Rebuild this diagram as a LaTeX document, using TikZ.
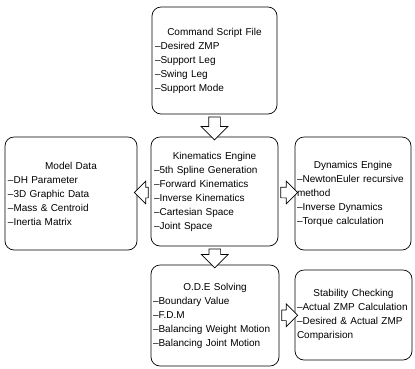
\documentclass[tikz,border=0pt]{standalone}
\usepackage{fontspec}
\setmainfont{Liberation Sans}
\usetikzlibrary{shapes.arrows,calc}
\newcommand{\boxfont}{\fontsize{10}{14}\selectfont\hyphenpenalty=10000\relax}
\newcommand{\boxtitle}[1]{\makebox[\linewidth]{#1}}
\begin{document}
\begin{tikzpicture}[x=1pt,y=-1pt,
  box/.style={draw, line width=0.7pt, rounded corners=9pt, inner xsep=3pt, inner ysep=0pt,
    align=left, font=\boxfont, anchor=center},
  blockarrow/.style={single arrow, draw, line width=0.7pt, fill=white, inner sep=0pt,
    text depth=0pt, single arrow head indent=0pt, minimum height=#1},
  % horizontal flow: shaft thickness comes from the text height
  harrow/.style={blockarrow=#1, text height=10pt, text width=0pt, single arrow head extend=6pt},
  % vertical flow: the shape is turned, so the text width sets the shaft
  varrow/.style={blockarrow=#1, text width=11pt, text height=0pt, single arrow head extend=7.5pt,
    shape border rotate=270},
]
\useasboundingbox (0,0) rectangle (415,368);

% modules
\node[box, minimum width=125pt, minimum height=107pt, text width=119pt] (cmd) at (214.5,60.5)
  {\boxtitle{Command Script File}\\ –Desired ZMP\\ –Support Leg\\ –Swing Leg\\ –Support Mode};
\node[box, minimum width=132pt, minimum height=113pt, text width=126pt] (model) at (71,193.5)
  {\boxtitle{Model Data}\\ –DH Parameter\\ –3D Graphic Data\\ –Mass \& Centroid\\ –Inertia Matrix};
\node[box, minimum width=127pt, minimum height=109pt, text width=121pt] (kin) at (214.5,191.5)
  {\boxtitle{Kinematics Engine}\\ –5th Spline Generation\\ –Forward Kinematics\\ –Inverse Kinematics\\ –Cartesian Space\\ –Joint Space};
\node[box, minimum width=116pt, minimum height=113pt, text width=112pt, inner xsep=2pt] (dyn) at (353,193.5)
  {\boxtitle{Dynamics Engine}\\ –NewtonEuler recursive\\ method\\ –Inverse Dynamics\\ –Torque calculation};
\node[box, minimum width=128pt, minimum height=101pt, text width=124pt, inner xsep=2pt] (ode) at (215,315.5)
  {\boxtitle{O.D.E Solving}\\ –Boundary Value\\ –F.D.M\\ –Balancing Weight Motion\\ –Balancing Joint Motion};
\node[box, minimum width=117pt, minimum height=90pt, text width=113pt, inner xsep=2pt] (stab) at (353.5,315)
  {\boxtitle{Stability Checking}\\ –Actual ZMP Calculation\\ –Desired \& Actual ZMP\\ Comparision};

% data flow
\node[varrow=23pt] (a1) at ($(cmd.south)!0.5!(kin.north)$) {};
\node[harrow=14pt, shape border rotate=180] (a2) at ($(kin.west)!0.5!(model.east)$) {};
\node[harrow=17pt] (a3) at ($(kin.east)!0.5!(dyn.west)$) {};
\node[varrow=19pt] (a4) at ($(kin.south)!0.5!(ode.north)$) {};
\node[harrow=16pt] (a5) at ($(ode.east)!0.5!(stab.west)$) {};
\end{tikzpicture}
\end{document}
